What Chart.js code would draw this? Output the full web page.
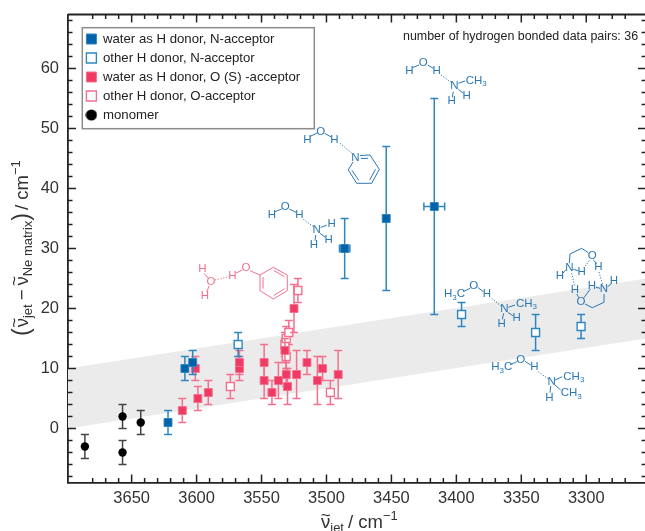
<!DOCTYPE html>
<html><head><meta charset="utf-8">
<style>html,body{margin:0;padding:0;background:#fff;overflow:hidden;width:645px;height:531px}canvas{display:block}</style>
<script src="https://cdn.jsdelivr.net/npm/chart.js@4"></script></head>
<body><canvas id="c" width="648" height="531"></canvas>
<script>
// ---- data ----
const waterN_x=[3622,3609,3603,3486,3454,3417];
const waterN_y=[1,10,11,30,35,37];
const waterN_err=[2,2,2,5,12,18];
const waterN_xErr=[0,0,0,4,0,8];
const otherN_x=[3568,3396,3339,3304];
const otherN_y=[14,19,16,17];
const otherN_err=[2,2,3,2];
const waterO_x=[3611,3599,3591,3601,3567,3567,3548,3548,3542,3537,3532,3531,3530,3525,3523,3515,3507,3503,3491];
const waterO_y=[3,5,6,10,10,11,11,8,6,8,13,9,7,20,9,11,8,10,9];
const waterO_err=[2,2,2,2,2,2,3,3,2,3,2,2,3,4,4,2,4,2,4];
const otherO_x=[3574,3531,3532,3531,3529,3522,3497];
const otherO_y=[7,12,14,15,16,23,6];
const otherO_err=[2,2,2,2,2,2,2];
const mono_x=[3686,3657,3657,3643];
const mono_y=[-3,2,-4,1];
const mono_err=[2,2,2,2];
const band_x=[3699,3254];
const band_upper=[10,25];
const band_lower=[0,15];
const seriesLabels=['water as H donor, N-acceptor','other H donor, N-acceptor','water as H donor, O (S) -acceptor','other H donor, O-acceptor','monomer'];
const xMajor=50,xMinor=10,yMajor=10,yMinor=2;
const noteText='number of hydrogen bonded data pairs: 36';

// ---- styles ----
const FONT='"Liberation Sans", Arial, sans-serif';
const BLUE='#0062a8',BLUE_L='#2e86c1',PINK='#ef3a64',PINK_L='#f4708f',INK='#222';
const pts=(xs,ys)=>xs.map((x,i)=>({x,y:ys[i]}));
function series(label,xs,ys,err,xErr,style){
  return Object.assign({type:'scatter',label,data:pts(xs,ys),yErr:err,xErr,showLine:false},style);
}
const filled=(c,halo)=>({pointStyle:'rect',pointRadius:5.6,backgroundColor:c,borderColor:halo,borderWidth:1,errColor:halo});
const open=(c)=>({pointStyle:'rect',pointRadius:5.6,backgroundColor:'#fff',borderColor:c,borderWidth:1.4,errColor:c});

// ---- molecule sketches (annotations, placed on the canvas) ----
const molecules=[
 {c:'#2a78b6',atoms:[['H',307.3,140],['O',320.7,131.7],['H',334.3,140],['N',355.3,157.7]],
  bonds:[[309.5,136.7,316.7,133.3],[324.7,133.3,331.7,137.3],[360,155.5,370,155],[370,155,379.3,169.3],[379.3,169.3,371.7,183.3],[371.7,183.3,356.7,183.3],[356.7,183.3,348.3,170],[348.3,170,353,162],
   [361,158.5,368,158.3],[375.5,169.3,369.7,180],[358.7,180.3,352,170.3]],
  dots:[[340,143.3,352,153.3]]},
 {c:'#2a78b6',atoms:[['H',272,215.3],['O',285.3,207.3],['H',299.3,215.3],['N',316.7,230],['H',331.7,224.3],['H',328.7,240],['H',314,245]],
  bonds:[[275,211.7,281.7,209],[289.3,209,296,212.3],[320.7,227.3,326.7,225.3],[320,233.3,325.3,237.3],[315.7,235,315,240.7]],
  dots:[[303.3,219.3,313.3,226.7]]},
 {c:'#2a78b6',atoms:[['H',409.3,71],['O',423.3,63.3],['H',436.7,71],['N',454.3,86],['CH_3',465.7,80.7,'l'],['H',466.7,96],['H',451.7,101]],
  bonds:[[412.3,67.7,419,65],[427.7,65,433.3,68.3],[458.3,83.3,465,81],[458.3,89.3,463.3,93.3],[453.3,91.7,452.3,97.3]],
  dots:[[441,75,451.7,82.7]]},
 {c:'#f0708f',atoms:[['H',202.3,269.3],['O',211,281.7],['H',205,296],['H',232.3,276],['O',246,268.3]],
  bonds:[[204,273.3,208.3,278.3],[209.3,286,206.7,291.7],[235.7,273.3,242.3,270],[250,270.7,260,275],
   [260,275,273.3,267.3],[273.3,267.3,287.3,275],[287.3,275,287.3,290.7],[287.3,290.7,273.3,299],[273.3,299,260,290.7],[260,290.7,260,275],
   [263,277,263,288.7],[274,270.7,284.5,276.7],[284.5,288.7,274,295.5]],
  dots:[[215,280,229,276.7]]},
 {c:'#2a78b6',atoms:[['H_3C',444,294.3,'l'],['O',473.7,286],['H',487,294.3],['N',504.3,309],['CH_3',516,304,'l'],['H',516.7,318.3],['H',501.7,324.3]],
  bonds:[[463.3,291.7,470,288.3],[477.7,287.3,483.3,291.7],[508.3,307.3,515,305],[507.7,312.3,513.3,316],[503.7,313.3,502.3,319.3]],
  dots:[[491.7,298.3,501,306]]},
 {c:'#2a78b6',atoms:[['H_3C',491.3,367.3,'l'],['O',520.7,360],['H',534.3,367.3],['N',551.7,381.7],['CH_3',563.3,377,'l'],['CH_3',560.7,393.3,'l'],['H',549.3,397.7]],
  bonds:[[510,365,516.7,361.7],[525,361.3,530.7,365],[555,380,562.3,376.7],[555,385,560.7,390],[550.7,386,550,392.7]],
  dots:[[538.3,371.7,548.3,379]]},
 {c:'#2a78b6',atoms:[['O',592.3,256],['N',569.3,267.7],['H',560,276],['H',581.7,271.7],['H',598.3,267.3],['N',604,289.3],['H',614,281],['H',592,285.7],['H',575,290],['O',581,301.7]],
  bonds:[[588.3,252.7,581.7,248.3],[581.7,248.3,570,254],[570,254,569.3,263.3],[565.7,270,562.7,273.3],[573.3,269.3,578.3,270.7],
   [593.3,260,596.7,263.3],[596,287.3,600,288.3],[607.7,286.7,611.7,283.3],[576.7,294,579,297.7],[590,289.3,584,297.7],
   [585,304,592.3,307.7],[592.3,307.7,604,302.3],[604,302.3,604,294]],
  dots:[[589.3,260.7,584,267.7],[599,272,602.7,285],[571.7,273.3,574.7,286]]}
];

// ---- rich text helper ----
function rich(ctx,segs,x,y){
  ctx.textAlign='left';ctx.textBaseline='alphabetic';
  let cx=x;
  segs.forEach(s=>{
    ctx.font=s.size+'px '+FONT;
    const w=ctx.measureText(s.t).width;
    ctx.fillText(s.t,cx,y+(s.dy||0));
    if(s.tilde){
      ctx.textAlign='center';ctx.font='17px '+FONT;
      ctx.fillText('~',cx+w/2,y-7.4);
      ctx.textAlign='left';
    }
    cx+=w+(s.gap||0);
  });
}
const NU={t:'\u03BD',size:18.5,tilde:true};
const xTitle=[NU,{t:'jet',size:13,dy:4,gap:4},{t:'/ cm',size:18.5},{t:'\u22121',size:13,dy:-8}];
const yTitle=[{t:'(',size:23,dy:1,gap:1},NU,{t:'jet',size:13,dy:4,gap:4},{t:'\u2212',size:18.5,gap:4},NU,{t:'Ne matrix',size:13,dy:4},{t:')',size:23,dy:1,gap:3},{t:'/ cm',size:18.5},{t:'\u22121',size:13,dy:-8}];

const decorations={
  id:'decorations',
  afterLayout(chart){
    const l=chart.legend;
    l.left=80.6;l.right=314;l.top=26.6;l.bottom=129;l.width=233.4;l.height=102.4;
  },
  beforeDatasetDraw(chart,args){
    const ds=chart.data.datasets[args.index];
    if(!ds.yErr) return;
    const {ctx,scales:{x,y}}=chart;
    ctx.save();ctx.strokeStyle=ds.errColor;ctx.lineWidth=1.5;
    const cap=4;
    ds.data.forEach((p,i)=>{
      const px=x.getPixelForValue(p.x),py=y.getPixelForValue(p.y);
      const hi=y.getPixelForValue(p.y+ds.yErr[i]),lo=y.getPixelForValue(p.y-ds.yErr[i]);
      ctx.beginPath();
      ctx.moveTo(px,hi);ctx.lineTo(px,lo);
      ctx.moveTo(px-cap,hi);ctx.lineTo(px+cap,hi);
      ctx.moveTo(px-cap,lo);ctx.lineTo(px+cap,lo);
      const xe=ds.xErr&&ds.xErr[i];
      if(xe){
        const l=x.getPixelForValue(p.x+xe),r=x.getPixelForValue(p.x-xe);
        ctx.moveTo(l,py);ctx.lineTo(r,py);
        ctx.moveTo(l,py-cap);ctx.lineTo(l,py+cap);
        ctx.moveTo(r,py-cap);ctx.lineTo(r,py+cap);
      }
      ctx.stroke();
    });
    ctx.restore();
  },
  afterDraw(chart){
    const {ctx,chartArea:a,scales:{x,y}}=chart;
    ctx.save();
    // frame + inward ticks on all sides
    ctx.strokeStyle=INK;ctx.lineWidth=1.8;
    ctx.beginPath();ctx.moveTo(a.left,a.top);ctx.lineTo(a.right,a.top);ctx.lineTo(a.right,a.bottom);ctx.stroke();
    ctx.lineWidth=1.5;
    x.ticks.forEach(t=>{
      if(t.value%xMinor) return;
      const len=t.value%xMajor?4.5:8,p=x.getPixelForValue(t.value);
      ctx.beginPath();ctx.moveTo(p,a.bottom);ctx.lineTo(p,a.bottom-len);ctx.moveTo(p,a.top);ctx.lineTo(p,a.top+len);ctx.stroke();
    });
    y.ticks.forEach(t=>{
      if(t.value%yMinor) return;
      const len=t.value%yMajor?4.5:8,p=y.getPixelForValue(t.value);
      ctx.beginPath();ctx.moveTo(a.left,p);ctx.lineTo(a.left+len,p);ctx.moveTo(a.right,p);ctx.lineTo(a.right-len,p);ctx.stroke();
    });
    // legend box
    ctx.strokeStyle='#8c8c8c';ctx.lineWidth=1.5;
    ctx.strokeRect(82.3,27.7,232,101);
    // note
    ctx.fillStyle='#222';ctx.font='12.45px '+FONT;ctx.textAlign='left';ctx.textBaseline='alphabetic';
    ctx.fillText(noteText,403,40);
    // axis titles
    ctx.fillStyle='#333';
    rich(ctx,xTitle,321,528);
    ctx.save();ctx.translate(27.5,336);ctx.rotate(-Math.PI/2);rich(ctx,yTitle,0,0);ctx.restore();
    // molecules
    molecules.forEach(m=>{
      ctx.strokeStyle=m.c;ctx.fillStyle=m.c;ctx.lineWidth=1;
      m.bonds.forEach(b=>{ctx.beginPath();ctx.moveTo(b[0],b[1]);ctx.lineTo(b[2],b[3]);ctx.stroke();});
      ctx.setLineDash([1.2,1.6]);
      m.dots.forEach(b=>{ctx.beginPath();ctx.moveTo(b[0],b[1]);ctx.lineTo(b[2],b[3]);ctx.stroke();});
      ctx.setLineDash([]);
      m.atoms.forEach(at=>{
        const [txt,px,py,al]=at;
        ctx.textBaseline='middle';
        if(al==='l'){
          ctx.textAlign='left';let cx=px;
          txt.split('_').forEach((part,i)=>{
            if(i===0){ctx.font='11.5px '+FONT;ctx.fillText(part,cx,py);cx+=ctx.measureText(part).width;}
            else{
              ctx.font='8px '+FONT;ctx.fillText(part[0],cx,py+3);cx+=ctx.measureText(part[0]).width;
              const rest=part.slice(1);
              if(rest){ctx.font='11.5px '+FONT;ctx.fillText(rest,cx,py);}
            }
          });
        }else{
          ctx.textAlign='center';ctx.font='11.5px '+FONT;ctx.fillText(txt,px,py);
        }
      });
    });
    ctx.restore();
  }
};

// legend marker for the monomer: a smaller disc than the default legend radius
const disc=document.createElement('canvas');disc.width=disc.height=12;
(()=>{const g=disc.getContext('2d');g.fillStyle='#000';g.beginPath();g.arc(6,6,5.6,0,Math.PI*2);g.fill();})();

new Chart(document.getElementById('c'),{
  data:{datasets:[
    series(seriesLabels[0],waterN_x,waterN_y,waterN_err,waterN_xErr,filled(BLUE,BLUE_L)),
    series(seriesLabels[1],otherN_x,otherN_y,otherN_err,null,open(BLUE_L)),
    series(seriesLabels[2],waterO_x,waterO_y,waterO_err,null,filled(PINK,PINK_L)),
    series(seriesLabels[3],otherO_x,otherO_y,otherO_err,null,open(PINK_L)),
    series(seriesLabels[4],mono_x,mono_y,mono_err,null,{pointStyle:'circle',pointRadius:4.2,backgroundColor:'#000',borderColor:'#000',borderWidth:0,errColor:'#444'}),
    {type:'line',data:pts(band_x,band_upper),pointRadius:0,borderWidth:0,borderColor:'rgba(0,0,0,0)',backgroundColor:'#ebebeb',fill:'+1',tension:0,order:20},
    {type:'line',data:pts(band_x,band_lower),pointRadius:0,borderWidth:0,borderColor:'rgba(0,0,0,0)',fill:false,tension:0,order:21}
  ]},
  options:{
    responsive:false,animation:false,devicePixelRatio:1,
    layout:{autoPadding:false,padding:{top:14.5,right:2,bottom:0,left:0}},
    plugins:{
      tooltip:{enabled:false},
      legend:{
        display:true,position:'chartArea',align:'start',
        labels:{
          usePointStyle:true,boxHeight:10,boxWidth:10,padding:5.8,color:'#222',
          font:{family:FONT,size:13.2},
          filter:i=>!!i.text,
          generateLabels(chart){
            const items=Chart.defaults.plugins.legend.labels.generateLabels(chart);
            items.forEach(it=>{if(it.text===seriesLabels[4]) it.pointStyle=disc;});
            return items;
          }
        }
      }
    },
    scales:{
      x:{type:'linear',reverse:true,min:band_x[1],max:band_x[0],
        grid:{display:false,drawTicks:false},
        border:{display:true,color:INK,width:1.8},
        ticks:{stepSize:xMinor,autoSkip:false,maxRotation:0,padding:6,color:'#333',font:{family:FONT,size:16.5},
          callback:v=>(v%xMajor===0)?String(v):''},
        afterFit(s){s.height=48.5;s.paddingLeft=0;s.paddingRight=0;}
      },
      y:{type:'linear',min:-9,max:69,
        grid:{display:false,drawTicks:false},
        border:{display:true,color:INK,width:1.8},
        ticks:{stepSize:1,autoSkip:false,padding:9,color:'#333',font:{family:FONT,size:16.5},
          callback:v=>v%yMajor===0?String(v):''},
        afterFit(s){s.width=68;s.paddingTop=0;s.paddingBottom=0;}
      }
    }
  },
  plugins:[decorations]
});
</script></body></html>
